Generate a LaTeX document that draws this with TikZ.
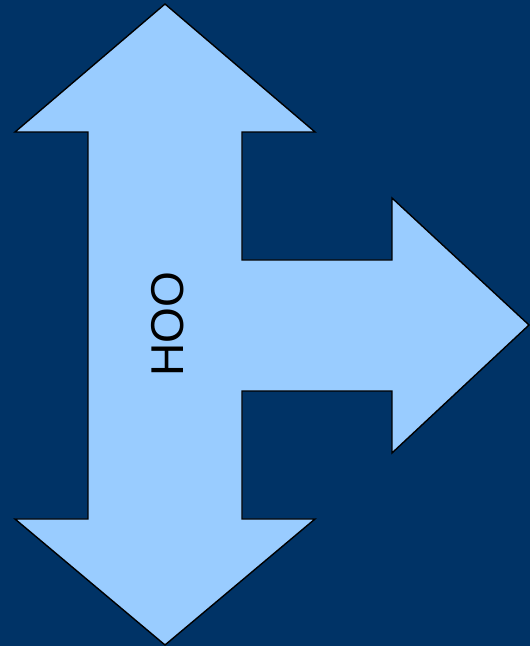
\documentclass[tikz,border=0pt]{standalone}
\usepackage{fontspec}
\setmainfont{Liberation Sans}
\usetikzlibrary{positioning}
\definecolor{navyBg}{HTML}{003366}
\definecolor{skyA}{HTML}{99CCFF}
\tikzset{
  arrowshape/.style={draw=black, line width=1.4pt, fill=skyA, line join=miter},
  label/.style={font=\fontsize{46}{48}\selectfont, text=black, rotate=90, inner sep=0pt}
}
\begin{document}
\begin{tikzpicture}[x=1pt,y=1pt]
\useasboundingbox (0,0) rectangle (530,646);
\fill[navyBg] (0,0) rectangle (530,646);

% three-way arrow
\draw[arrowshape] (165,642) -- (315,514) -- (242,514) -- (242,386) -- (392,386)
  -- (392,448) -- (529,321) -- (392,193) -- (392,255) -- (242,255) -- (242,127)
  -- (315,127) -- (165,1) -- (15,127) -- (88,127) -- (88,514) -- (15,514) -- cycle;

\node[label] (hoo) at (168,322) {HOO};

\end{tikzpicture}
\end{document}
